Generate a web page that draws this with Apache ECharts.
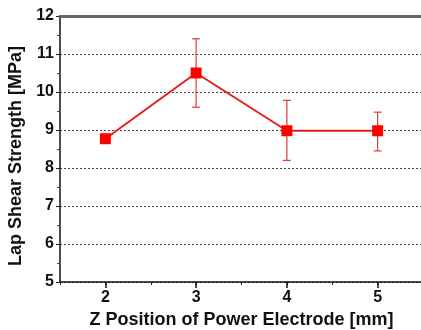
<!DOCTYPE html>
<html><head><meta charset="utf-8">
<script src="https://cdn.jsdelivr.net/npm/echarts@6/dist/echarts.min.js"></script>
<style>html,body{margin:0;padding:0;background:#fff}#c{width:421px;height:330px}</style>
</head><body><div id="c"></div>
<script>
const positions = [2, 3, 4, 5];
const strength = [8.77, 10.5, 8.98, 8.98];
const errUpper = [8.88, 11.4, 9.78, 9.47];
const errLower = [8.66, 9.6, 8.2, 8.45];
const xTickValues = [2, 3, 4, 5];
const xTitle = 'Z Position of Power Electrode [mm]';
const yTitle = 'Lap Shear Strength [MPa]';

const chart = echarts.init(document.getElementById('c'));
const font = 'Arial, "Liberation Sans", sans-serif';
chart.setOption({
  animation: false,
  grid: {left: 60, right: -2, top: 16, bottom: 48, outerBoundsMode: 'none', containLabel: false},
  xAxis: [{
    type: 'value', min: 1.5, max: 5.5, interval: 0.5,
    axisLine: {lineStyle: {color: '#111', width: 1.5}},
    axisTick: {show: true, length: 3, lineStyle: {color: '#222'}},
    axisLabel: {show: true, customValues: xTickValues, color: '#111', fontWeight: 'bold', fontSize: 16, fontFamily: font, margin: 8},
    splitLine: {show: false},
    name: xTitle, nameLocation: 'middle', nameGap: 28,
    nameTextStyle: {color: '#111', fontWeight: 'bold', fontSize: 18, fontFamily: font}
  }, {
    type: 'value', min: 1.5, max: 5.5, position: 'bottom',
    axisLine: {show: false},
    axisTick: {show: true, customValues: xTickValues, length: 6, lineStyle: {color: '#111', width: 1.5}},
    axisLabel: {show: false}, splitLine: {show: false}
  }, {
    type: 'value', min: 1.5, max: 5.5, position: 'top',
    axisLine: {show: true, lineStyle: {color: '#666', width: 3}},
    axisTick: {show: false}, axisLabel: {show: false}, splitLine: {show: false}
  }],
  yAxis: {
    type: 'value', min: 5, max: 12, interval: 1,
    axisLine: {show: true, lineStyle: {color: '#111', width: 1.5}},
    axisTick: {show: true, length: 4, lineStyle: {color: '#222'}},
    minorTick: {show: true, splitNumber: 2, length: 3, lineStyle: {color: '#444'}},
    axisLabel: {color: '#111', fontWeight: 'bold', fontSize: 16, fontFamily: font, margin: 6},
    splitLine: {show: true, lineStyle: {color: '#444', type: [2, 2], width: 1}},
    name: yTitle, nameLocation: 'middle', nameGap: 34,
    nameTextStyle: {color: '#111', fontWeight: 'bold', fontSize: 18, fontFamily: font, padding: [0, 14, 0, 0]}
  },
  series: [{
    type: 'custom',
    xAxisIndex: 0,
    data: positions.map((x, i) => [x, errLower[i], errUpper[i]]),
    renderItem: function (params, api) {
      const x = api.value(0);
      const lo = api.coord([x, api.value(1)]);
      const hi = api.coord([x, api.value(2)]);
      const w = 4;
      const st = {stroke: '#d9403f', lineWidth: 1.2};
      return {type: 'group', children: [
        {type: 'line', shape: {x1: lo[0], y1: lo[1], x2: hi[0], y2: hi[1]}, style: st},
        {type: 'line', shape: {x1: lo[0]-w, y1: lo[1], x2: lo[0]+w, y2: lo[1]}, style: st},
        {type: 'line', shape: {x1: hi[0]-w, y1: hi[1], x2: hi[0]+w, y2: hi[1]}, style: st}
      ]};
    },
    z: 3
  }, {
    type: 'line',
    xAxisIndex: 0,
    data: positions.map((x, i) => [x, strength[i]]),
    symbol: 'rect', symbolSize: 11,
    itemStyle: {color: '#ff0000'},
    lineStyle: {color: '#e02020', width: 2},
    z: 4
  }]
});
</script></body></html>
